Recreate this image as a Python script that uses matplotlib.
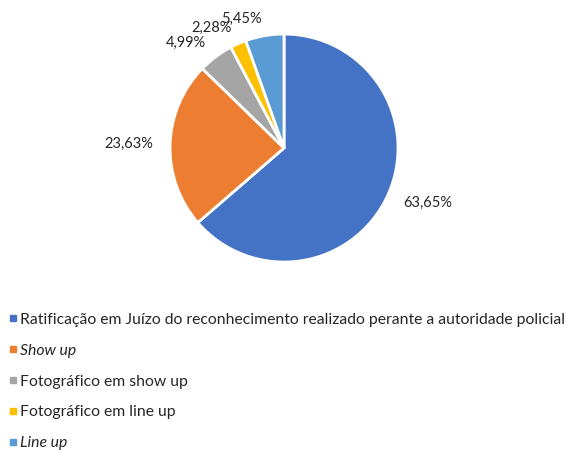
import matplotlib
matplotlib.use("Agg")
import matplotlib.pyplot as plt
from matplotlib.lines import Line2D

plt.rcParams['font.family'] = ['Lato', 'DejaVu Sans']

categorias = [
    "Ratificação em Juízo do reconhecimento realizado perante a autoridade policial",
    "Show up",
    "Fotográfico em show up",
    "Fotográfico em line up",
    "Line up",
]
valores = [63.65, 23.63, 4.99, 2.28, 5.45]
rotulos = ["63,65%", "23,63%", "4,99%", "2,28%", "5,45%"]
cores = ["#4472C4", "#ED7D31", "#A5A5A5", "#FFC000", "#5B9BD5"]
italico = [False, True, False, False, True]

fig = plt.figure(figsize=(5.66, 4.51), dpi=100)
ax = fig.add_axes([0.3004, 0.419, 0.4028, 0.5055])

wedges, texts = ax.pie(valores, labels=rotulos, colors=cores, startangle=90,
                       counterclock=False, labeldistance=1.15,
                       wedgeprops=dict(edgecolor="white", linewidth=2),
                       textprops=dict(fontsize=10.5, color="#262626"))
ax.set_xlim(-1, 1)
ax.set_ylim(-1, 1)

handles = [Line2D([], [], marker="s", linestyle="", markersize=4.5,
                  markerfacecolor=c, markeredgecolor=c) for c in cores]
leg = fig.legend(handles, categorias, loc="upper left",
                 bbox_to_anchor=(0.0152, 0.3067), frameon=False,
                 fontsize=11.35, labelspacing=1.07, handlelength=0.5,
                 handletextpad=0.2, borderaxespad=0, borderpad=0)
for t, it in zip(leg.get_texts(), italico):
    t.set_color("#262626")
    if it:
        t.set_fontstyle("italic")

fig.savefig("out.png", dpi=100)
